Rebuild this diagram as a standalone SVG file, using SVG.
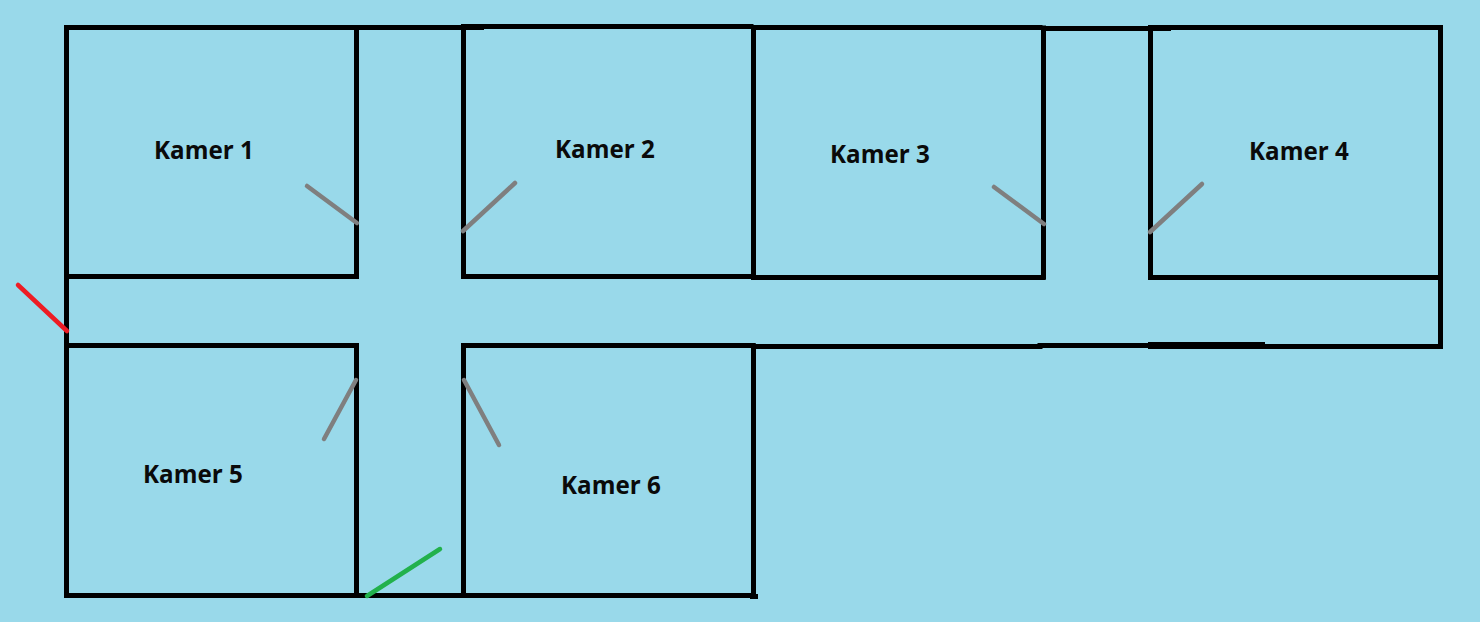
<svg xmlns="http://www.w3.org/2000/svg" width="1480" height="622" viewBox="0 0 1480 622">
<style>
.w{fill:none;stroke:#000;stroke-width:5;stroke-linecap:square}
.b{fill:#000}
.d{fill:none;stroke:#7f7f7f;stroke-width:4.5;stroke-linecap:round}
.t{font-family:"Open Sans","Noto Sans",sans-serif;font-weight:700;font-size:24.2px;fill:#0a0a0a;text-anchor:start}
</style>
<rect width="1480" height="622" fill="#99d9ea"/>
<g id="walls">
<path class="w" d="M66.500 27.500V593.500"/>
<path class="w" d="M66.500 27.500H461"/>
<path class="w" d="M356.500 27.500V276.500M356.500 345.500V595"/>
<path class="w" d="M463.500 27.500V276.500M463.500 345.500V595"/>
<path class="w" d="M463.500 26.500H751"/>
<path class="w" d="M753.500 27.500V276.500M753.500 346V595"/>
<path class="w" d="M753.500 27.500H1040"/>
<path class="w" d="M1043.500 28.500H1148"/>
<path class="w" d="M1043.500 28V277"/>
<path class="w" d="M1150.500 28V277"/>
<path class="w" d="M1150.500 27.500H1440.500V346.500H1265"/>
<path class="w" d="M66.500 276.500H356"/>
<path class="w" d="M463.500 276.500H753"/>
<path class="w" d="M753.500 277.500H1043"/>
<path class="w" d="M1150.500 277.500H1440"/>
<path class="w" d="M66.500 345.500H356"/>
<path class="w" d="M463.500 345.500H753"/>
<path class="w" d="M753.500 346.500H1040"/>
<path class="w" d="M1040 345.500H1150"/>
<path class="w" d="M66.500 595.500H753"/>
<rect class="b" x="1148" y="342" width="117" height="7"/>
<rect class="b" x="750" y="594" width="8" height="5"/>
<rect class="b" x="461" y="27" width="23" height="3"/>
<rect class="b" x="1148" y="28" width="23" height="3"/>
</g>
<g id="doors">
<path class="d" d="M307 186L357 223"/>
<path class="d" d="M515 183L463 231"/>
<path class="d" d="M994 187L1044 224"/>
<path class="d" d="M1202 184L1150 232"/>
<path class="d" d="M356 380L324 439"/>
<path class="d" d="M464 380L499 445"/>
<path d="M18 285L67 331" fill="none" stroke="#ed1c24" stroke-width="4.500" stroke-linecap="round"/>
<path d="M367 596L440 549" fill="none" stroke="#22b14c" stroke-width="4.500" stroke-linecap="round"/>
</g>
<g id="kamer-1"><text class="t" x="154" y="159">Kamer 1</text></g>
<g id="kamer-2"><text class="t" x="555" y="158">Kamer 2</text></g>
<g id="kamer-3"><text class="t" x="830" y="163">Kamer 3</text></g>
<g id="kamer-4"><text class="t" x="1249" y="160">Kamer 4</text></g>
<g id="kamer-5"><text class="t" x="143" y="483">Kamer 5</text></g>
<g id="kamer-6"><text class="t" x="561" y="494">Kamer 6</text></g>
</svg>
